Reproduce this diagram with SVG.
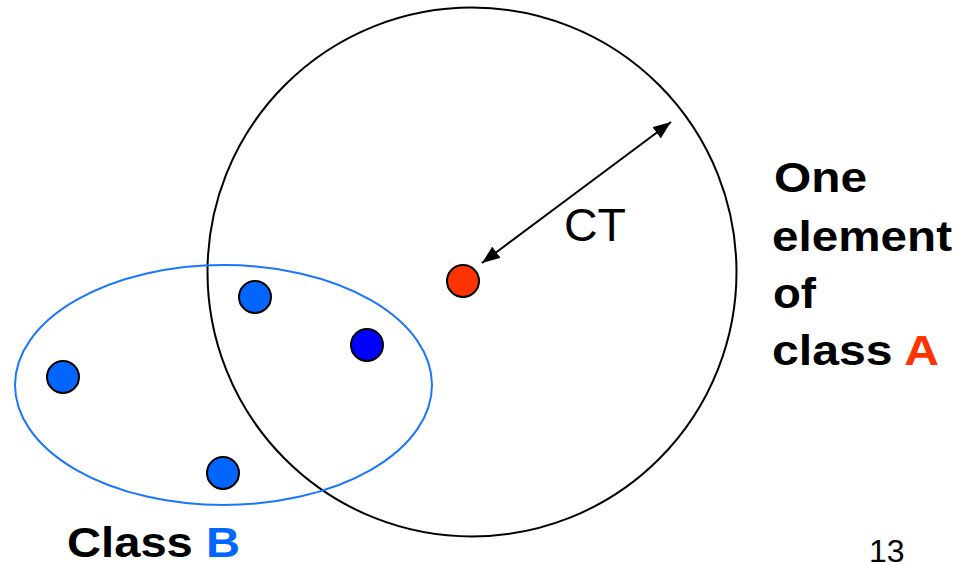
<svg xmlns="http://www.w3.org/2000/svg" width="969" height="562" viewBox="0 0 969 562">
<defs>
<style>
.dot{stroke:#000;stroke-width:2}
.lbl{font-family:"Liberation Sans",Arial,sans-serif;font-weight:bold;font-size:43px;fill:#000}
</style>
<marker id="ah" viewBox="0 0 18 14" refX="18" refY="7" markerWidth="18" markerHeight="14" markerUnits="userSpaceOnUse" orient="auto-start-reverse">
<path d="M0,0 L18,7 L0,14 Z" fill="#000"/>
</marker>
</defs>
<rect width="969" height="562" fill="#fff"/>
<g id="circleA"><circle cx="472" cy="272" r="264.5" fill="none" stroke="#000" stroke-width="2"/></g>
<g id="classB"><ellipse cx="223.5" cy="385" rx="208.5" ry="120" fill="none" stroke="#1a75ff" stroke-width="2"/></g>
<g id="connectors">
<line x1="482" y1="263" x2="671" y2="122" stroke="#000" stroke-width="2" marker-start="url(#ah)" marker-end="url(#ah)"/>
</g>
<g id="pointA"><circle class="dot" cx="463" cy="281" r="16" fill="#ff3300"/></g>
<g id="b1"><circle class="dot" cx="63" cy="377" r="16" fill="#0066ff"/></g>
<g id="b2"><circle class="dot" cx="255" cy="297" r="16" fill="#0066ff"/></g>
<g id="b3"><circle class="dot" cx="367" cy="345" r="16" fill="#0000ff"/></g>
<g id="b4"><circle class="dot" cx="223" cy="473" r="16" fill="#0066ff"/></g>
<g id="ct"><text x="564" y="241" font-family="'Liberation Sans',Arial,sans-serif" font-size="46" fill="#000" textLength="62" lengthAdjust="spacingAndGlyphs">CT</text></g>
<g id="labelA">
<text class="lbl" x="774" y="192" textLength="93" lengthAdjust="spacingAndGlyphs">One</text>
<text class="lbl" x="772" y="251" textLength="180" lengthAdjust="spacingAndGlyphs">element</text>
<text class="lbl" x="773" y="308" textLength="43" lengthAdjust="spacingAndGlyphs">of</text>
<text class="lbl" x="772" y="365" textLength="167" lengthAdjust="spacingAndGlyphs">class <tspan fill="#ff3300">A</tspan></text>
</g>
<g id="labelB"><text class="lbl" x="67" y="557" textLength="173" lengthAdjust="spacingAndGlyphs">Class <tspan fill="#0066ff">B</tspan></text></g>
<g id="page"><text x="869" y="562" font-family="'Liberation Sans',Arial,sans-serif" font-size="32" fill="#000">13</text></g>
</svg>
